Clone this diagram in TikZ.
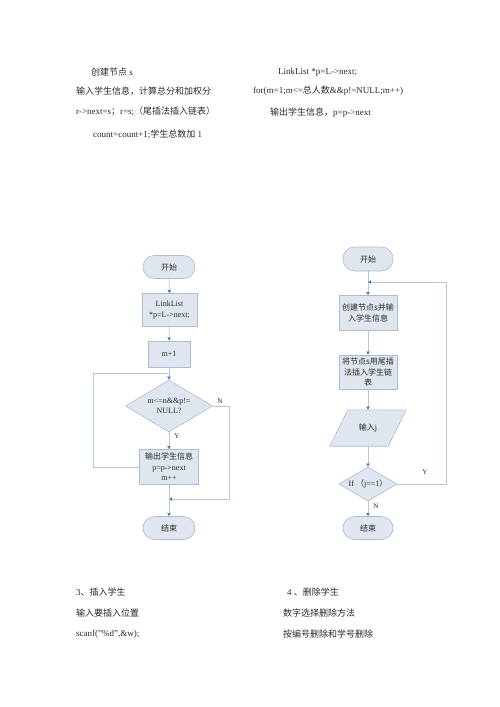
\documentclass[tikz,border=0pt]{standalone}
\usepackage{fontspec}
\setmainfont{Liberation Serif}
\newfontfamily\cjk{Noto Sans CJK SC}
\usetikzlibrary{shapes.geometric,arrows.meta}
\definecolor{boxfill}{HTML}{DFE6F0}
\definecolor{boxdraw}{HTML}{AEBBD0}
\definecolor{linec}{HTML}{B9C7DC}
\definecolor{tipc}{HTML}{4A78B8}
\definecolor{txt}{HTML}{2A2A2A}
\tikzset{
  x=1pt,y=-1pt,
  plain/.style={anchor=west,inner sep=0pt,font=\fontsize{9}{11}\selectfont,text=txt},
  fbox/.style={draw=boxdraw,fill=boxfill,line width=0.6pt,align=center,inner sep=1pt,
    font=\fontsize{8}{10.5}\selectfont,text=txt},
  term/.style={fbox,rounded corners=11.5pt,minimum width=52pt,minimum height=23pt},
  diam/.style={fbox,shape=diamond,inner sep=1pt},
  lab/.style={inner sep=0pt,font=\fontsize{7}{8}\selectfont,text=txt},
  conn/.style={draw=linec,line width=0.7pt},
  arr/.style={conn,-{Triangle[length=3.2pt,width=3.4pt,color=tipc]}}
}
\begin{document}
\begin{tikzpicture}
\useasboundingbox (0,0) rectangle (500,707);
% top texts
\node[plain] (t1) at (91,72) {{\cjk 创建节点} s};
\node[plain] (t2) at (76,91) {\cjk 输入学生信息，计算总分和加权分};
\node[plain] (t3) at (76,111) {r->next=s{\cjk ；}r=s;{\cjk （尾插法插入链表）}};
\node[plain] (t4) at (93,134) {count=count+1;{\cjk 学生总数加} 1};
\node[plain] (t5) at (278,72) {LinkList *p=L->next;};
\node[plain] (t6) at (253,91) {for(m=1;m<={\cjk 总人数}\&\&p!=NULL;m++)};
\node[plain] (t7) at (270,113) {{\cjk 输出学生信息，}p=p->next};
% bottom texts
\node[plain] (b1t) at (76,592) {3{\cjk 、插入学生}};
\node[plain] (b2t) at (76,613) {\cjk 输入要插入位置};
\node[plain] (b3t) at (76,634) {scanf("\%d",\&w);};
\node[plain] (b4t) at (287,592) {4 {\cjk 、删除学生}};
\node[plain] (b5t) at (283,613) {\cjk 数字选择删除方法};
\node[plain] (b6t) at (283,634) {\cjk 按编号删除和学号删除};

% left flowchart
\node[term] (s1) at (169,267) {\cjk 开始};
\node[fbox,minimum width=55pt,minimum height=33pt] (ll) at (169.5,310) {LinkList\\*p=L->next;};
\node[fbox,minimum width=42pt,minimum height=26pt] (m1) at (169,354) {m+1};
\node[diam,minimum width=87pt,minimum height=52pt,
  label={[lab,font=\fontsize{8}{10.5}\selectfont,align=center]center:m<=n\&\&p!=\\NULL?}] (d1) at (169,406) {};
\node[fbox,minimum width=59pt,minimum height=35pt] (ob) at (169,467) {{\cjk 输出学生信息}\\p=p->next\\m++};
\node[term] (e1) at (169,528) {\cjk 结束};
\coordinate (j1) at (169,373);
\coordinate (j2) at (169,499);
\coordinate (lx) at (93,467);
\coordinate (rx) at (229,406);
\draw[arr] (s1) -- (ll);
\draw[arr] (ll) -- (m1);
\draw[arr] (m1) -- (d1);
\draw[arr] (d1) -- (ob);
\draw[conn] (ob.west) -- (lx) |- (j1);
\draw[arr] (d1.east) -- (rx) |- (j2);
\draw[arr] (ob) -- (e1);
\node[lab] (ly) at (177,436) {Y};
\node[lab] (ln) at (220,401) {N};

% right flowchart
\node[term,minimum width=50pt,minimum height=24pt] (s2) at (368,259) {\cjk 开始};
\node[fbox,minimum width=58pt,minimum height=35pt] (c1) at (368,313) {{\cjk 创建节点s并输}\\{\cjk 入学生信息}};
\node[fbox,minimum width=58pt,minimum height=34pt] (c2) at (368,372) {{\cjk 将节点s用尾插}\\{\cjk 法插入学生链}\\{\cjk 表}};
\node[inner sep=0pt,minimum width=58pt,minimum height=36pt] (pj) at (368,428) {};
\draw[draw=boxdraw,fill=boxfill,line width=0.6pt]
  ([xshift=9pt]pj.north west) -- ([xshift=9pt]pj.north east) -- ([xshift=-9pt]pj.south east)
  -- ([xshift=-9pt]pj.south west) -- cycle;
\node[lab,font=\fontsize{8}{10}\selectfont,text=txt] (pjt) at (pj.center) {{\cjk 输入}j};
\node[diam,minimum width=58pt,minimum height=34pt,
  label={[lab,font=\fontsize{8}{10}\selectfont]center:If {\cjk （}j==1{\cjk ）}}] (d2) at (368,484) {};
\node[term,minimum width=50pt,minimum height=23pt] (e2) at (368,528) {\cjk 结束};
\coordinate (j3) at (368,282);
\coordinate (rx2) at (446,484);
\draw[arr] (s2) -- (c1);
\draw[arr] (c1) -- (c2);
\draw[arr] (c2) -- (pj);
\draw[arr] (pj) -- (d2);
\draw[arr] (d2) -- (e2);
\draw[arr] (d2.east) -- (rx2) |- (j3);
\node[lab] (ry) at (425,472) {Y};
\node[lab] (rn) at (376,506) {N};
\end{tikzpicture}
\end{document}
